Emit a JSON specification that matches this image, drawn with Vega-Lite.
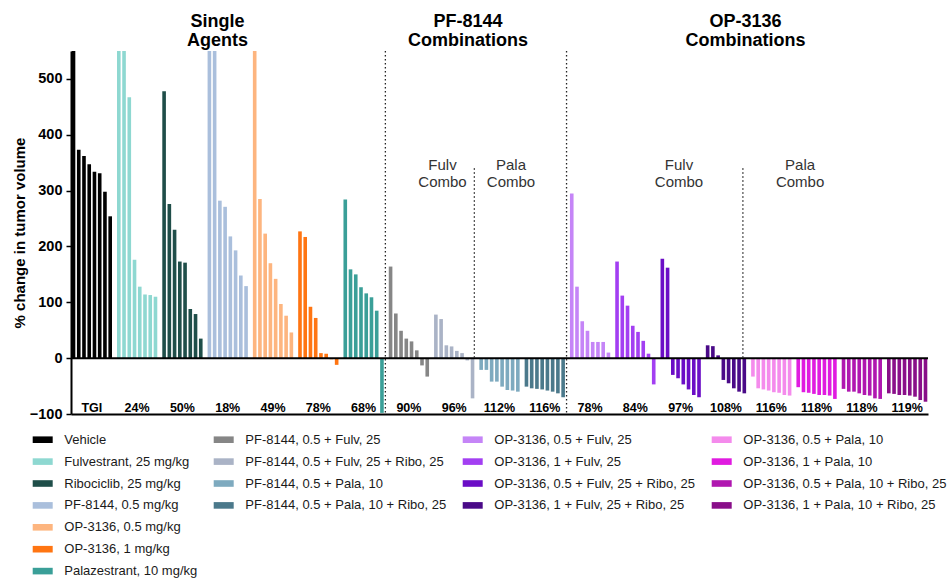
{
  "$schema": "https://vega.github.io/schema/vega-lite/v6.json",
  "width": 857,
  "height": 363,
  "autosize": "none",
  "padding": {"left": 71, "top": 51, "right": 21, "bottom": 169},
  "background": "white",
  "config": {"view": {"stroke": null}, "font": "Liberation Sans", "axis": {"grid": false}},
  "datasets": {
    "bars": [
      {"g": "Vehicle", "r": 1, "v": 600}, {"g": "Vehicle", "r": 2, "v": 373}, {"g": "Vehicle", "r": 3, "v": 362}, {"g": "Vehicle", "r": 4, "v": 347}, {"g": "Vehicle", "r": 5, "v": 334}, {"g": "Vehicle", "r": 6, "v": 331}, {"g": "Vehicle", "r": 7, "v": 298}, {"g": "Vehicle", "r": 8, "v": 254},
      {"g": "Fulvestrant, 25 mg/kg", "r": 1, "v": 600}, {"g": "Fulvestrant, 25 mg/kg", "r": 2, "v": 590}, {"g": "Fulvestrant, 25 mg/kg", "r": 3, "v": 467}, {"g": "Fulvestrant, 25 mg/kg", "r": 4, "v": 176}, {"g": "Fulvestrant, 25 mg/kg", "r": 5, "v": 128}, {"g": "Fulvestrant, 25 mg/kg", "r": 6, "v": 114}, {"g": "Fulvestrant, 25 mg/kg", "r": 7, "v": 113}, {"g": "Fulvestrant, 25 mg/kg", "r": 8, "v": 110},
      {"g": "Ribociclib, 25 mg/kg", "r": 1, "v": 478}, {"g": "Ribociclib, 25 mg/kg", "r": 2, "v": 276}, {"g": "Ribociclib, 25 mg/kg", "r": 3, "v": 230}, {"g": "Ribociclib, 25 mg/kg", "r": 4, "v": 173}, {"g": "Ribociclib, 25 mg/kg", "r": 5, "v": 171}, {"g": "Ribociclib, 25 mg/kg", "r": 6, "v": 88}, {"g": "Ribociclib, 25 mg/kg", "r": 7, "v": 79}, {"g": "Ribociclib, 25 mg/kg", "r": 8, "v": 35},
      {"g": "PF-8144, 0.5 mg/kg", "r": 1, "v": 600}, {"g": "PF-8144, 0.5 mg/kg", "r": 2, "v": 580}, {"g": "PF-8144, 0.5 mg/kg", "r": 3, "v": 282}, {"g": "PF-8144, 0.5 mg/kg", "r": 4, "v": 271}, {"g": "PF-8144, 0.5 mg/kg", "r": 5, "v": 218}, {"g": "PF-8144, 0.5 mg/kg", "r": 6, "v": 193}, {"g": "PF-8144, 0.5 mg/kg", "r": 7, "v": 148}, {"g": "PF-8144, 0.5 mg/kg", "r": 8, "v": 129},
      {"g": "OP-3136, 0.5 mg/kg", "r": 1, "v": 600}, {"g": "OP-3136, 0.5 mg/kg", "r": 2, "v": 285}, {"g": "OP-3136, 0.5 mg/kg", "r": 3, "v": 223}, {"g": "OP-3136, 0.5 mg/kg", "r": 4, "v": 170}, {"g": "OP-3136, 0.5 mg/kg", "r": 5, "v": 142}, {"g": "OP-3136, 0.5 mg/kg", "r": 6, "v": 97}, {"g": "OP-3136, 0.5 mg/kg", "r": 7, "v": 76}, {"g": "OP-3136, 0.5 mg/kg", "r": 8, "v": 46},
      {"g": "OP-3136, 1 mg/kg", "r": 1, "v": 227}, {"g": "OP-3136, 1 mg/kg", "r": 2, "v": 217}, {"g": "OP-3136, 1 mg/kg", "r": 3, "v": 92}, {"g": "OP-3136, 1 mg/kg", "r": 4, "v": 72}, {"g": "OP-3136, 1 mg/kg", "r": 5, "v": 9}, {"g": "OP-3136, 1 mg/kg", "r": 6, "v": 8}, {"g": "OP-3136, 1 mg/kg", "r": 7, "v": -2}, {"g": "OP-3136, 1 mg/kg", "r": 8, "v": -12},
      {"g": "Palazestrant, 10 mg/kg", "r": 1, "v": 284}, {"g": "Palazestrant, 10 mg/kg", "r": 2, "v": 159}, {"g": "Palazestrant, 10 mg/kg", "r": 3, "v": 150}, {"g": "Palazestrant, 10 mg/kg", "r": 4, "v": 127}, {"g": "Palazestrant, 10 mg/kg", "r": 5, "v": 116}, {"g": "Palazestrant, 10 mg/kg", "r": 6, "v": 109}, {"g": "Palazestrant, 10 mg/kg", "r": 7, "v": 85}, {"g": "Palazestrant, 10 mg/kg", "r": 8, "v": -98},
      {"g": "PF-8144, 0.5 + Fulv, 25", "r": 1, "v": 164}, {"g": "PF-8144, 0.5 + Fulv, 25", "r": 2, "v": 80}, {"g": "PF-8144, 0.5 + Fulv, 25", "r": 3, "v": 49}, {"g": "PF-8144, 0.5 + Fulv, 25", "r": 4, "v": 35}, {"g": "PF-8144, 0.5 + Fulv, 25", "r": 5, "v": 30}, {"g": "PF-8144, 0.5 + Fulv, 25", "r": 6, "v": 14}, {"g": "PF-8144, 0.5 + Fulv, 25", "r": 7, "v": -13}, {"g": "PF-8144, 0.5 + Fulv, 25", "r": 8, "v": -33},
      {"g": "PF-8144, 0.5 + Fulv, 25 + Ribo, 25", "r": 1, "v": 78}, {"g": "PF-8144, 0.5 + Fulv, 25 + Ribo, 25", "r": 2, "v": 70}, {"g": "PF-8144, 0.5 + Fulv, 25 + Ribo, 25", "r": 3, "v": 23}, {"g": "PF-8144, 0.5 + Fulv, 25 + Ribo, 25", "r": 4, "v": 21}, {"g": "PF-8144, 0.5 + Fulv, 25 + Ribo, 25", "r": 5, "v": 13}, {"g": "PF-8144, 0.5 + Fulv, 25 + Ribo, 25", "r": 6, "v": 9}, {"g": "PF-8144, 0.5 + Fulv, 25 + Ribo, 25", "r": 7, "v": -4}, {"g": "PF-8144, 0.5 + Fulv, 25 + Ribo, 25", "r": 8, "v": -72},
      {"g": "PF-8144, 0.5 + Pala, 10", "r": 1, "v": -21}, {"g": "PF-8144, 0.5 + Pala, 10", "r": 2, "v": -21}, {"g": "PF-8144, 0.5 + Pala, 10", "r": 3, "v": -42}, {"g": "PF-8144, 0.5 + Pala, 10", "r": 4, "v": -42}, {"g": "PF-8144, 0.5 + Pala, 10", "r": 5, "v": -51}, {"g": "PF-8144, 0.5 + Pala, 10", "r": 6, "v": -57}, {"g": "PF-8144, 0.5 + Pala, 10", "r": 7, "v": -58}, {"g": "PF-8144, 0.5 + Pala, 10", "r": 8, "v": -60},
      {"g": "PF-8144, 0.5 + Pala, 10 + Ribo, 25", "r": 1, "v": -51}, {"g": "PF-8144, 0.5 + Pala, 10 + Ribo, 25", "r": 2, "v": -54}, {"g": "PF-8144, 0.5 + Pala, 10 + Ribo, 25", "r": 3, "v": -55}, {"g": "PF-8144, 0.5 + Pala, 10 + Ribo, 25", "r": 4, "v": -56}, {"g": "PF-8144, 0.5 + Pala, 10 + Ribo, 25", "r": 5, "v": -58}, {"g": "PF-8144, 0.5 + Pala, 10 + Ribo, 25", "r": 6, "v": -60}, {"g": "PF-8144, 0.5 + Pala, 10 + Ribo, 25", "r": 7, "v": -63}, {"g": "PF-8144, 0.5 + Pala, 10 + Ribo, 25", "r": 8, "v": -70},
      {"g": "OP-3136, 0.5 + Fulv, 25", "r": 1, "v": 295}, {"g": "OP-3136, 0.5 + Fulv, 25", "r": 2, "v": 128}, {"g": "OP-3136, 0.5 + Fulv, 25", "r": 3, "v": 66}, {"g": "OP-3136, 0.5 + Fulv, 25", "r": 4, "v": 49}, {"g": "OP-3136, 0.5 + Fulv, 25", "r": 5, "v": 29}, {"g": "OP-3136, 0.5 + Fulv, 25", "r": 6, "v": 29}, {"g": "OP-3136, 0.5 + Fulv, 25", "r": 7, "v": 29}, {"g": "OP-3136, 0.5 + Fulv, 25", "r": 8, "v": 10},
      {"g": "OP-3136, 1 + Fulv, 25", "r": 1, "v": 173}, {"g": "OP-3136, 1 + Fulv, 25", "r": 2, "v": 112}, {"g": "OP-3136, 1 + Fulv, 25", "r": 3, "v": 94}, {"g": "OP-3136, 1 + Fulv, 25", "r": 4, "v": 58}, {"g": "OP-3136, 1 + Fulv, 25", "r": 5, "v": 47}, {"g": "OP-3136, 1 + Fulv, 25", "r": 6, "v": 31}, {"g": "OP-3136, 1 + Fulv, 25", "r": 7, "v": 8}, {"g": "OP-3136, 1 + Fulv, 25", "r": 8, "v": -47},
      {"g": "OP-3136, 0.5 + Fulv, 25 + Ribo, 25", "r": 1, "v": 178}, {"g": "OP-3136, 0.5 + Fulv, 25 + Ribo, 25", "r": 2, "v": 162}, {"g": "OP-3136, 0.5 + Fulv, 25 + Ribo, 25", "r": 3, "v": -30}, {"g": "OP-3136, 0.5 + Fulv, 25 + Ribo, 25", "r": 4, "v": -36}, {"g": "OP-3136, 0.5 + Fulv, 25 + Ribo, 25", "r": 5, "v": -47}, {"g": "OP-3136, 0.5 + Fulv, 25 + Ribo, 25", "r": 6, "v": -56}, {"g": "OP-3136, 0.5 + Fulv, 25 + Ribo, 25", "r": 7, "v": -66}, {"g": "OP-3136, 0.5 + Fulv, 25 + Ribo, 25", "r": 8, "v": -70},
      {"g": "OP-3136, 1 + Fulv, 25 + Ribo, 25", "r": 1, "v": 23}, {"g": "OP-3136, 1 + Fulv, 25 + Ribo, 25", "r": 2, "v": 21.5}, {"g": "OP-3136, 1 + Fulv, 25 + Ribo, 25", "r": 3, "v": 5}, {"g": "OP-3136, 1 + Fulv, 25 + Ribo, 25", "r": 4, "v": -39}, {"g": "OP-3136, 1 + Fulv, 25 + Ribo, 25", "r": 5, "v": -45}, {"g": "OP-3136, 1 + Fulv, 25 + Ribo, 25", "r": 6, "v": -54}, {"g": "OP-3136, 1 + Fulv, 25 + Ribo, 25", "r": 7, "v": -60}, {"g": "OP-3136, 1 + Fulv, 25 + Ribo, 25", "r": 8, "v": -63},
      {"g": "OP-3136, 0.5 + Pala, 10", "r": 1, "v": -33}, {"g": "OP-3136, 0.5 + Pala, 10", "r": 2, "v": -54}, {"g": "OP-3136, 0.5 + Pala, 10", "r": 3, "v": -56}, {"g": "OP-3136, 0.5 + Pala, 10", "r": 4, "v": -58}, {"g": "OP-3136, 0.5 + Pala, 10", "r": 5, "v": -61}, {"g": "OP-3136, 0.5 + Pala, 10", "r": 6, "v": -62}, {"g": "OP-3136, 0.5 + Pala, 10", "r": 7, "v": -66}, {"g": "OP-3136, 0.5 + Pala, 10", "r": 8, "v": -67},
      {"g": "OP-3136, 1 + Pala, 10", "r": 1, "v": -52}, {"g": "OP-3136, 1 + Pala, 10", "r": 2, "v": -61}, {"g": "OP-3136, 1 + Pala, 10", "r": 3, "v": -62}, {"g": "OP-3136, 1 + Pala, 10", "r": 4, "v": -64}, {"g": "OP-3136, 1 + Pala, 10", "r": 5, "v": -66}, {"g": "OP-3136, 1 + Pala, 10", "r": 6, "v": -66}, {"g": "OP-3136, 1 + Pala, 10", "r": 7, "v": -67}, {"g": "OP-3136, 1 + Pala, 10", "r": 8, "v": -73},
      {"g": "OP-3136, 0.5 + Pala, 10 + Ribo, 25", "r": 1, "v": -55}, {"g": "OP-3136, 0.5 + Pala, 10 + Ribo, 25", "r": 2, "v": -60}, {"g": "OP-3136, 0.5 + Pala, 10 + Ribo, 25", "r": 3, "v": -60}, {"g": "OP-3136, 0.5 + Pala, 10 + Ribo, 25", "r": 4, "v": -63}, {"g": "OP-3136, 0.5 + Pala, 10 + Ribo, 25", "r": 5, "v": -66}, {"g": "OP-3136, 0.5 + Pala, 10 + Ribo, 25", "r": 6, "v": -67}, {"g": "OP-3136, 0.5 + Pala, 10 + Ribo, 25", "r": 7, "v": -72}, {"g": "OP-3136, 0.5 + Pala, 10 + Ribo, 25", "r": 8, "v": -73},
      {"g": "OP-3136, 1 + Pala, 10 + Ribo, 25", "r": 1, "v": -63}, {"g": "OP-3136, 1 + Pala, 10 + Ribo, 25", "r": 2, "v": -64}, {"g": "OP-3136, 1 + Pala, 10 + Ribo, 25", "r": 3, "v": -66}, {"g": "OP-3136, 1 + Pala, 10 + Ribo, 25", "r": 4, "v": -66}, {"g": "OP-3136, 1 + Pala, 10 + Ribo, 25", "r": 5, "v": -67}, {"g": "OP-3136, 1 + Pala, 10 + Ribo, 25", "r": 6, "v": -69}, {"g": "OP-3136, 1 + Pala, 10 + Ribo, 25", "r": 7, "v": -75}, {"g": "OP-3136, 1 + Pala, 10 + Ribo, 25", "r": 8, "v": -78}
    ],
    "tgi": [
      {"g": "Vehicle", "t": "TGI"},
      {"g": "Fulvestrant, 25 mg/kg", "t": "24%"},
      {"g": "Ribociclib, 25 mg/kg", "t": "50%"},
      {"g": "PF-8144, 0.5 mg/kg", "t": "18%"},
      {"g": "OP-3136, 0.5 mg/kg", "t": "49%"},
      {"g": "OP-3136, 1 mg/kg", "t": "78%"},
      {"g": "Palazestrant, 10 mg/kg", "t": "68%"},
      {"g": "PF-8144, 0.5 + Fulv, 25", "t": "90%"},
      {"g": "PF-8144, 0.5 + Fulv, 25 + Ribo, 25", "t": "96%"},
      {"g": "PF-8144, 0.5 + Pala, 10", "t": "112%"},
      {"g": "PF-8144, 0.5 + Pala, 10 + Ribo, 25", "t": "116%"},
      {"g": "OP-3136, 0.5 + Fulv, 25", "t": "78%"},
      {"g": "OP-3136, 1 + Fulv, 25", "t": "84%"},
      {"g": "OP-3136, 0.5 + Fulv, 25 + Ribo, 25", "t": "97%"},
      {"g": "OP-3136, 1 + Fulv, 25 + Ribo, 25", "t": "108%"},
      {"g": "OP-3136, 0.5 + Pala, 10", "t": "116%"},
      {"g": "OP-3136, 1 + Pala, 10", "t": "118%"},
      {"g": "OP-3136, 0.5 + Pala, 10 + Ribo, 25", "t": "118%"},
      {"g": "OP-3136, 1 + Pala, 10 + Ribo, 25", "t": "119%"}
    ]
  },
  "layer": [
    {
      "data": {"name": "bars"},
      "mark": {"type": "bar", "clip": true},
      "encoding": {
        "x": {"field": "g", "type": "nominal", "sort": null,
          "scale": {"domain": ["Vehicle", "Fulvestrant, 25 mg/kg", "Ribociclib, 25 mg/kg", "PF-8144, 0.5 mg/kg", "OP-3136, 0.5 mg/kg", "OP-3136, 1 mg/kg", "Palazestrant, 10 mg/kg", "PF-8144, 0.5 + Fulv, 25", "PF-8144, 0.5 + Fulv, 25 + Ribo, 25", "PF-8144, 0.5 + Pala, 10", "PF-8144, 0.5 + Pala, 10 + Ribo, 25", "OP-3136, 0.5 + Fulv, 25", "OP-3136, 1 + Fulv, 25", "OP-3136, 0.5 + Fulv, 25 + Ribo, 25", "OP-3136, 1 + Fulv, 25 + Ribo, 25", "OP-3136, 0.5 + Pala, 10", "OP-3136, 1 + Pala, 10", "OP-3136, 0.5 + Pala, 10 + Ribo, 25", "OP-3136, 1 + Pala, 10 + Ribo, 25"], "paddingInner": 0.1106, "paddingOuter": 0.0155},
          "axis": {"title": null, "labels": false, "ticks": false, "domain": true, "domainColor": "black", "domainWidth": 2, "grid": false}},
        "xOffset": {"field": "r", "type": "ordinal", "scale": {"paddingInner": 0.31, "paddingOuter": 0}},
        "y": {"field": "v", "type": "quantitative",
          "scale": {"domain": [-100, 550], "nice": false, "zero": false},
          "axis": {"values": [-100, -50, 0, 50, 100, 150, 200, 250, 300, 350, 400, 450, 500],
            "labelExpr": "datum.value % 100 === 0 ? datum.label : ''",
            "title": "% change in tumor volume", "titleFont": "Liberation Sans", "titleFontSize": 15, "titleFontWeight": "bold", "titleColor": "black",
            "titleX": -52, "titleY": 181.5, "titleAngle": -90, "titleBaseline": "middle", "titleAlign": "center",
            "labelFont": "Liberation Sans", "labelFontSize": 14.5, "labelFontWeight": "bold", "labelColor": "black", "labelPadding": 4,
            "tickSize": 5, "tickColor": "black", "tickWidth": 1.5, "domainColor": "black", "domainWidth": 2, "grid": false}},
        "color": {"field": "g", "type": "nominal",
          "scale": {
            "domain": ["Vehicle", "Fulvestrant, 25 mg/kg", "Ribociclib, 25 mg/kg", "PF-8144, 0.5 mg/kg", "OP-3136, 0.5 mg/kg", "OP-3136, 1 mg/kg", "Palazestrant, 10 mg/kg",
              "PF-8144, 0.5 + Fulv, 25", "PF-8144, 0.5 + Fulv, 25 + Ribo, 25", "PF-8144, 0.5 + Pala, 10", "PF-8144, 0.5 + Pala, 10 + Ribo, 25", " ", "  ", "   ",
              "OP-3136, 0.5 + Fulv, 25", "OP-3136, 1 + Fulv, 25", "OP-3136, 0.5 + Fulv, 25 + Ribo, 25", "OP-3136, 1 + Fulv, 25 + Ribo, 25", "    ", "     ", "      ",
              "OP-3136, 0.5 + Pala, 10", "OP-3136, 1 + Pala, 10", "OP-3136, 0.5 + Pala, 10 + Ribo, 25", "OP-3136, 1 + Pala, 10 + Ribo, 25", "       ", "        ", "         "],
            "range": ["#000000", "#8ed8d1", "#1f4e49", "#aabfdc", "#fdb57f", "#ff7512", "#3a9f98",
              "#868686", "#aab3c6", "#7eaabf", "#4b798b", "rgba(0,0,0,0)", "rgba(0,0,0,0)", "rgba(0,0,0,0)",
              "#c585f7", "#a33ff2", "#6b0dc6", "#4a0a88", "rgba(0,0,0,0)", "rgba(0,0,0,0)", "rgba(0,0,0,0)",
              "#f48bec", "#e01be0", "#b017b0", "#890e89", "rgba(0,0,0,0)", "rgba(0,0,0,0)", "rgba(0,0,0,0)"]},
          "legend": {"orient": "none", "legendX": -38.3, "legendY": 378.7, "columns": 4, "columnPadding": 16, "rowPadding": 4.9,
            "symbolType": "M-1,-0.33H1V0.33H-1Z", "symbolSize": 400, "symbolStrokeWidth": 0, "symbolOpacity": 1,
            "labelFont": "Liberation Sans", "labelFontSize": 13, "labelColor": "#1a1a1a", "labelOffset": 11.6, "labelLimit": 400,
            "title": null, "padding": 0}}
      }
    },
    {
      "data": {"values": [{}]},
      "mark": {"type": "rule", "color": "black", "strokeWidth": 2},
      "encoding": {"y": {"datum": 0, "type": "quantitative", "scale": {"domain": [-100, 550], "nice": false, "zero": false}}}
    },
    {
      "data": {"values": [{"g": "Palazestrant, 10 mg/kg"}, {"g": "PF-8144, 0.5 + Pala, 10 + Ribo, 25"}]},
      "mark": {"type": "rule", "color": "#222222", "strokeWidth": 1.3, "strokeDash": [1.5, 2.5]},
      "encoding": {
        "x": {"field": "g", "type": "nominal", "bandPosition": 1.04},
        "y": {"datum": 550, "type": "quantitative", "scale": {"domain": [-100, 550], "nice": false, "zero": false}},
        "y2": {"datum": -100}
      }
    },
    {
      "data": {"values": [{"g": "PF-8144, 0.5 + Fulv, 25 + Ribo, 25"}]},
      "mark": {"type": "rule", "color": "#222222", "strokeWidth": 1.3, "strokeDash": [1.5, 2.5]},
      "encoding": {
        "x": {"field": "g", "type": "nominal", "bandPosition": 1.0},
        "y": {"datum": 340, "type": "quantitative", "scale": {"domain": [-100, 550], "nice": false, "zero": false}},
        "y2": {"datum": 0}
      }
    },
    {
      "data": {"values": [{"g": "OP-3136, 1 + Fulv, 25 + Ribo, 25"}]},
      "mark": {"type": "rule", "color": "#222222", "strokeWidth": 1.3, "strokeDash": [1.5, 2.5]},
      "encoding": {
        "x": {"field": "g", "type": "nominal", "bandPosition": 0.92},
        "y": {"datum": 340, "type": "quantitative", "scale": {"domain": [-100, 550], "nice": false, "zero": false}},
        "y2": {"datum": 0}
      }
    },
    {
      "data": {"name": "tgi"},
      "mark": {"type": "text", "font": "Liberation Sans", "fontSize": 12.5, "fontWeight": "bold", "color": "black", "baseline": "alphabetic", "align": "center"},
      "encoding": {
        "x": {"field": "g", "type": "nominal"},
        "y": {"datum": -96, "type": "quantitative", "scale": {"domain": [-100, 550], "nice": false, "zero": false}},
        "text": {"field": "t"}
      }
    },
    {
      "data": {"values": [{"g": "PF-8144, 0.5 mg/kg", "t": "Single\nAgents"}]},
      "mark": {"type": "text", "font": "Liberation Sans", "fontSize": 18, "fontWeight": "bold", "color": "black", "baseline": "alphabetic", "align": "center", "lineBreak": "\n", "lineHeight": 19},
      "encoding": {
        "x": {"field": "g", "type": "nominal", "bandPosition": 0.246},
        "y": {"datum": 593, "type": "quantitative", "scale": {"domain": [-100, 550], "nice": false, "zero": false}},
        "text": {"field": "t"}
      }
    },
    {
      "data": {"values": [{"g": "PF-8144, 0.5 + Fulv, 25 + Ribo, 25", "t": "PF-8144\nCombinations"}]},
      "mark": {"type": "text", "font": "Liberation Sans", "fontSize": 18, "fontWeight": "bold", "color": "black", "baseline": "alphabetic", "align": "center", "lineBreak": "\n", "lineHeight": 19},
      "encoding": {
        "x": {"field": "g", "type": "nominal", "bandPosition": 0.842},
        "y": {"datum": 593, "type": "quantitative", "scale": {"domain": [-100, 550], "nice": false, "zero": false}},
        "text": {"field": "t"}
      }
    },
    {
      "data": {"values": [{"g": "OP-3136, 1 + Fulv, 25 + Ribo, 25", "t": "OP-3136\nCombinations"}]},
      "mark": {"type": "text", "font": "Liberation Sans", "fontSize": 18, "fontWeight": "bold", "color": "black", "baseline": "alphabetic", "align": "center", "lineBreak": "\n", "lineHeight": 19},
      "encoding": {
        "x": {"field": "g", "type": "nominal", "bandPosition": 0.984},
        "y": {"datum": 593, "type": "quantitative", "scale": {"domain": [-100, 550], "nice": false, "zero": false}},
        "text": {"field": "t"}
      }
    },
    {
      "data": {"values": [{"g": "PF-8144, 0.5 + Fulv, 25 + Ribo, 25", "t": "Fulv\nCombo"}]},
      "mark": {"type": "text", "font": "Liberation Sans", "fontSize": 15, "color": "#333333", "baseline": "alphabetic", "align": "center", "lineBreak": "\n", "lineHeight": 17},
      "encoding": {
        "x": {"field": "g", "type": "nominal", "bandPosition": 0.209},
        "y": {"datum": 337, "type": "quantitative", "scale": {"domain": [-100, 550], "nice": false, "zero": false}},
        "text": {"field": "t"}
      }
    },
    {
      "data": {"values": [{"g": "PF-8144, 0.5 + Pala, 10", "t": "Pala\nCombo"}]},
      "mark": {"type": "text", "font": "Liberation Sans", "fontSize": 15, "color": "#333333", "baseline": "alphabetic", "align": "center", "lineBreak": "\n", "lineHeight": 17},
      "encoding": {
        "x": {"field": "g", "type": "nominal", "bandPosition": 0.785},
        "y": {"datum": 337, "type": "quantitative", "scale": {"domain": [-100, 550], "nice": false, "zero": false}},
        "text": {"field": "t"}
      }
    },
    {
      "data": {"values": [{"g": "OP-3136, 0.5 + Fulv, 25 + Ribo, 25", "t": "Fulv\nCombo"}]},
      "mark": {"type": "text", "font": "Liberation Sans", "fontSize": 15, "color": "#333333", "baseline": "alphabetic", "align": "center", "lineBreak": "\n", "lineHeight": 17},
      "encoding": {
        "x": {"field": "g", "type": "nominal", "bandPosition": 0.458},
        "y": {"datum": 337, "type": "quantitative", "scale": {"domain": [-100, 550], "nice": false, "zero": false}},
        "text": {"field": "t"}
      }
    },
    {
      "data": {"values": [{"g": "OP-3136, 1 + Pala, 10", "t": "Pala\nCombo"}]},
      "mark": {"type": "text", "font": "Liberation Sans", "fontSize": 15, "color": "#333333", "baseline": "alphabetic", "align": "center", "lineBreak": "\n", "lineHeight": 17},
      "encoding": {
        "x": {"field": "g", "type": "nominal", "bandPosition": 0.09},
        "y": {"datum": 337, "type": "quantitative", "scale": {"domain": [-100, 550], "nice": false, "zero": false}},
        "text": {"field": "t"}
      }
    }
  ]
}
